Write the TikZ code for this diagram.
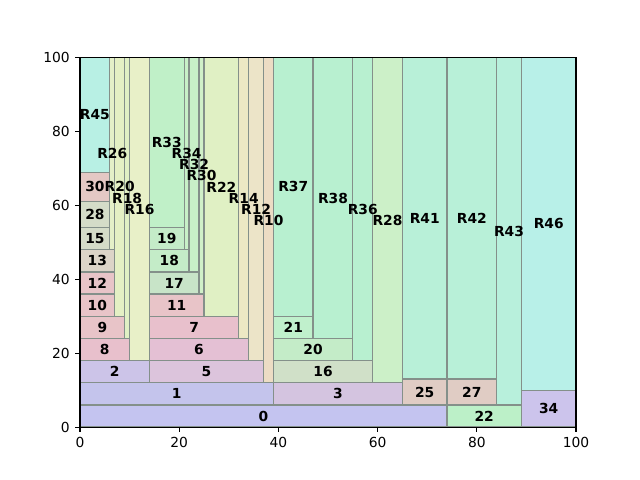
\documentclass[tikz,border=0pt]{standalone}
\usepackage{fontspec}
\setmainfont{DejaVu Sans}
\definecolor{edgec}{HTML}{84908A}
\definecolor{k0}{HTML}{C4C4F0}
\definecolor{k1}{HTML}{C4C4EC}
\definecolor{k2}{HTML}{CCC4E8}
\definecolor{k3}{HTML}{D4C4E0}
\definecolor{k5}{HTML}{DCC4DC}
\definecolor{k6}{HTML}{E4C0D4}
\definecolor{k7}{HTML}{E8C0CC}
\definecolor{k9}{HTML}{E8C4C8}
\definecolor{k13}{HTML}{DCD4C8}
\definecolor{k15}{HTML}{D4DCC8}
\definecolor{k16}{HTML}{D0E0C8}
\definecolor{k17}{HTML}{C8E4C8}
\definecolor{k18}{HTML}{C4ECC8}
\definecolor{k21}{HTML}{C0F0CC}
\definecolor{k22}{HTML}{BCF0C8}
\definecolor{k25}{HTML}{E0CCC4}
\definecolor{k30}{HTML}{E4C8C4}
\definecolor{k34}{HTML}{CCC4EC}
\definecolor{kR10}{HTML}{ECDCC4}
\definecolor{kR12}{HTML}{ECE4C8}
\definecolor{kR14}{HTML}{ECE8C4}
\definecolor{kR16}{HTML}{E8F0C8}
\definecolor{kR18}{HTML}{E0F0C4}
\definecolor{kR20}{HTML}{E4F0C4}
\definecolor{kR26}{HTML}{E4F0C8}
\definecolor{kR28}{HTML}{CCF0C8}
\definecolor{kR30}{HTML}{D0F0C8}
\definecolor{kR32}{HTML}{C8F0C8}
\definecolor{kR33}{HTML}{C0F0C8}
\definecolor{kR36}{HTML}{B8F0D0}
\definecolor{kR41}{HTML}{B8F0D8}
\definecolor{kR43}{HTML}{B8F0DC}
\definecolor{kR45}{HTML}{B8F0E4}
\definecolor{kR46}{HTML}{B8F0E8}
\tikzset{
  box/.style={draw=edgec, line width=0.9pt},
  lab/.style={font=\bfseries, inner sep=0pt},
  spine/.style={line width=0.8pt, draw=black},
  tickmark/.style={line width=0.8pt},
  ticklab/.style={inner sep=0pt}
}
\def\rectlist{0/0/0/74/6/k0, 1/0/6/39/12/k1, 2/0/12/14/18/k2, 3/39/6/65/12/k3,
5/14/12/37/18/k5, 6/14/18/34/24/k6, 7/14/24/32/30/k7, 8/0/18/10/24/k7,
9/0/24/9/30/k9, 10/0/30/7/36/k9, 11/14/30/25/36/k9, 12/0/36/7/42/k9,
13/0/42/7/48/k13, 15/0/48/6/54/k15, 16/39/12/59/18/k16, 17/14/36/24/42/k17,
18/14/42/22/48/k18, 19/14/48/21/54/k18, 20/39/18/55/24/k18, 21/39/24/47/30/k21,
22/74/0/89/6/k22, 25/65/6/74/13/k25, 27/74/6/84/13/k25, 28/0/54/6/61/k15,
30/0/61/6/69/k30, 34/89/0/100/10/k34,
R10/37/12/39/100/kR10, R12/34/18/37/100/kR12, R14/32/24/34/100/kR14,
R16/10/18/14/100/kR16, R18/9/24/10/100/kR18, R20/7/30/9/100/kR20,
R22/25/30/32/100/kR18, R26/6/48/7/100/kR26, R28/59/12/65/100/kR28,
R30/24/36/25/100/kR30, R32/22/42/24/100/kR32, R33/14/54/21/100/kR33,
R34/21/48/22/100/kR32, R36/55/18/59/100/kR36, R37/39/30/47/100/kR36,
R38/47/24/55/100/kR36, R41/65/13/74/100/kR41, R42/74/13/84/100/kR41,
R43/84/6/89/100/kR43, R45/0/69/6/100/kR45, R46/89/10/100/100/kR46}
\begin{document}
\begin{tikzpicture}[x=0.0496in, y=0.03696in]
\useasboundingbox (-16.129,-14.286) rectangle (112.903,115.584);
\foreach \n/\xa/\ya/\xb/\yb/\col in \rectlist {
  \path[box, fill=\col] (\xa,\ya) rectangle (\xb,\yb);
}
\foreach \n/\xa/\ya/\xb/\yb/\col in \rectlist {
  \node[lab] (n\n) at ({(\xa+\xb)/2},{(\ya+\yb)/2}) {\n};
}
\draw[spine] (0,0) rectangle (100,100);
\foreach \t in {0,20,40,60,80,100} {
  \coordinate (xt\t) at (\t,0);
  \coordinate (yt\t) at (0,\t);
  \draw[tickmark] (xt\t) -- ++(0,-3.5pt) node[ticklab, anchor=north, yshift=-3.5pt] (xl\t) {\t};
  \draw[tickmark] (yt\t) -- ++(-3.5pt,0) node[ticklab, anchor=east, xshift=-3.5pt] (yl\t) {\t};
}
\end{tikzpicture}
\end{document}
